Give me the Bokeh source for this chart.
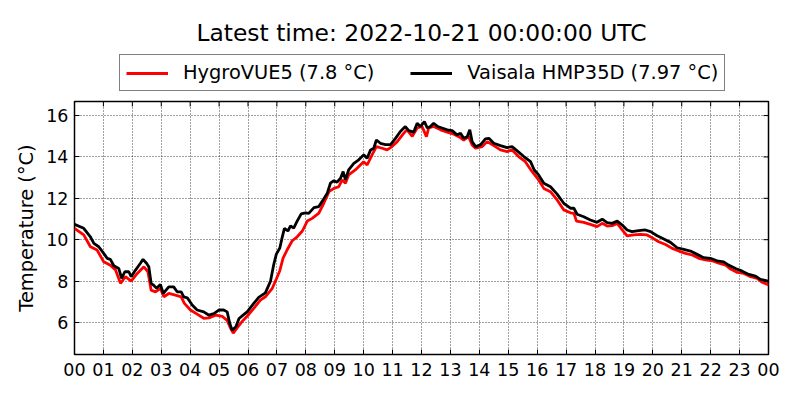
import math
from bokeh.plotting import figure
from bokeh.layouts import column
from bokeh.models import Legend, LegendItem, FixedTicker, Range1d
from bokeh.core.properties import value
from bokeh.embed import file_html
from bokeh.resources import INLINE

# ---------------- data ----------------
title_text = "Latest time: 2022-10-21 00:00:00 UTC"
y_label = "Temperature (°C)"
red_name = "HygroVUE5"
black_name = "Vaisala HMP35D"

hour_ticks = list(range(25))
hour_labels = ["%02d" % (h % 24) for h in hour_ticks]
temp_ticks = [6, 8, 10, 12, 14, 16]
x_lo, x_hi = 0, 24
y_lo, y_hi = 4.45, 16.68

red_hours = [0.00, 0.32, 0.55, 0.78, 1.01, 1.24, 1.42, 1.59, 1.76, 1.96, 2.17, 2.40, 2.54, 2.65,
             2.80, 2.97, 3.09, 3.26, 3.49, 3.69, 3.80, 4.01, 4.24, 4.47, 4.65, 4.88, 5.11, 5.28,
             5.40, 5.49, 5.63, 5.80, 5.97, 6.20, 6.43, 6.60, 6.84, 6.98, 7.10, 7.21, 7.35, 7.53,
             7.70, 7.88, 8.05, 8.22, 8.45, 8.62, 8.80, 8.97, 9.14, 9.26, 9.37, 9.48, 9.71, 10.00,
             10.12, 10.29, 10.44, 10.64, 10.81, 10.98, 11.16, 11.39, 11.50, 11.68, 11.85, 12.02,
             12.17, 12.25, 12.42, 12.66, 12.89, 13.12, 13.29, 13.46, 13.63, 13.75, 13.87, 14.10,
             14.27, 14.50, 14.73, 14.96, 15.13, 15.36, 15.59, 15.82, 16.05, 16.23, 16.46, 16.69,
             16.92, 17.15, 17.27, 17.36, 17.61, 17.84, 18.07, 18.25, 18.42, 18.59, 18.77, 18.94,
             19.11, 19.34, 19.57, 19.80, 19.97, 20.20, 20.44, 20.67, 20.90, 21.13, 21.36, 21.59,
             21.82, 22.05, 22.28, 22.52, 22.69, 22.92, 23.15, 23.38, 23.61, 23.78, 23.95, 24.00]
red_temps = [10.55, 10.23, 9.66, 9.50, 8.93, 8.77, 8.53, 7.89, 8.21, 8.00, 8.37, 8.69, 8.45, 7.56,
             7.48, 7.64, 7.24, 7.40, 7.32, 7.24, 6.92, 6.60, 6.40, 6.20, 6.22, 6.35, 6.29, 6.10,
             5.71, 5.48, 5.75, 6.05, 6.30, 6.68, 7.08, 7.24, 7.65, 8.10, 8.50, 9.10, 9.50, 9.95,
             10.14, 10.42, 10.90, 11.03, 11.28, 11.76, 12.32, 12.48, 12.56, 12.89, 12.73, 13.13, 13.37, 13.77,
             13.61, 14.10, 14.50, 14.42, 14.34, 14.50, 14.74, 15.15, 15.31, 15.00, 15.40, 15.47,
             14.98, 15.40, 15.47, 15.31, 15.20, 15.10, 14.98, 14.82, 14.98, 14.58, 14.42, 14.50,
             14.74, 14.55, 14.34, 14.26, 14.34, 14.02, 13.77, 13.30, 12.89, 12.48, 12.32, 11.92,
             11.44, 11.30, 11.27, 10.90, 10.84, 10.74, 10.63, 10.79, 10.66, 10.68, 10.79, 10.47,
             10.18, 10.23, 10.26, 10.23, 10.10, 9.90, 9.77, 9.58, 9.45, 9.34, 9.26, 9.10,
             9.02, 8.98, 8.86, 8.77, 8.58, 8.42, 8.37, 8.21, 8.13, 7.94, 7.85, 7.80]

black_hours = [0.00, 0.32, 0.55, 0.67, 0.84, 1.01, 1.13, 1.24, 1.36, 1.53, 1.63, 1.74, 1.88, 1.96,
               2.11, 2.28, 2.37, 2.49, 2.57, 2.65, 2.72, 2.84, 2.97, 3.07, 3.26, 3.43, 3.55, 3.69,
               3.78, 3.90, 4.07, 4.24, 4.47, 4.65, 4.82, 4.99, 5.16, 5.28, 5.37, 5.45, 5.58, 5.69,
               5.83, 5.97, 6.20, 6.37, 6.60, 6.78, 6.89, 6.98, 7.10, 7.18, 7.26, 7.38, 7.47, 7.58,
               7.70, 7.84, 7.99, 8.10, 8.28, 8.45, 8.56, 8.74, 8.85, 8.97, 9.08, 9.20, 9.29, 9.37,
               9.48, 9.66, 9.83, 10.00, 10.12, 10.24, 10.35, 10.44, 10.58, 10.75, 10.93, 11.10,
               11.27, 11.44, 11.56, 11.73, 11.85, 11.96, 12.10, 12.20, 12.31, 12.42, 12.56, 12.71,
               12.89, 13.06, 13.23, 13.35, 13.46, 13.58, 13.67, 13.75, 13.87, 14.04, 14.21, 14.33,
               14.50, 14.73, 14.96, 15.13, 15.31, 15.54, 15.77, 15.90, 16.05, 16.23, 16.46, 16.69,
               16.92, 17.15, 17.27, 17.38, 17.61, 17.84, 18.07, 18.25, 18.42, 18.59, 18.77, 18.94,
               19.11, 19.28, 19.51, 19.74, 19.92, 20.15, 20.38, 20.61, 20.84, 21.07, 21.30, 21.53,
               21.76, 21.99, 22.22, 22.45, 22.62, 22.86, 23.09, 23.32, 23.55, 23.72, 23.95, 24.00]
black_temps = [10.74, 10.55, 10.14, 9.82, 9.66, 9.34, 9.10, 9.05, 8.74, 8.61, 8.13, 8.45, 8.45, 8.21,
               8.53, 8.86, 9.05, 8.86, 8.69, 7.89, 7.82, 7.65, 7.84, 7.40, 7.72, 7.72, 7.48, 7.48,
               7.24, 7.19, 6.84, 6.60, 6.51, 6.35, 6.43, 6.60, 6.60, 6.51, 5.95, 5.63, 5.79, 6.19,
               6.35, 6.51, 6.92, 7.21, 7.43, 8.00, 8.80, 9.30, 9.60, 10.10, 10.55, 10.42, 10.67, 10.56,
               10.90, 11.25, 11.30, 11.27, 11.55, 11.60, 11.84, 12.24, 12.73, 12.85, 12.78, 12.97, 13.29, 12.89,
               13.37, 13.69, 13.86, 14.10, 13.94, 14.34, 14.42, 14.82, 14.66, 14.60, 14.60, 14.90,
               15.23, 15.47, 15.27, 15.20, 15.63, 15.47, 15.71, 15.40, 15.47, 15.63, 15.47, 15.40,
               15.31, 15.27, 15.07, 15.15, 14.90, 14.98, 15.31, 14.74, 14.50, 14.58, 14.87, 14.90,
               14.66, 14.55, 14.45, 14.50, 14.29, 14.02, 13.77, 13.37, 13.13, 12.73, 12.56, 12.20,
               11.76, 11.52, 11.52, 11.23, 11.11, 10.95, 10.84, 10.99, 10.82, 10.79, 10.90, 10.71,
               10.47, 10.39, 10.44, 10.47, 10.39, 10.19, 10.03, 9.87, 9.61, 9.53, 9.45, 9.29,
               9.13, 9.10, 8.98, 8.93, 8.77, 8.61, 8.48, 8.32, 8.24, 8.08, 8.01, 7.97]

FONT = "DejaVu Sans"
RED = "#ff0000"
BLACK = "#000000"
W = 784
HEAD_H = 95
MAIN_H = 289
LEFT, RIGHT = 74, 16
NAN = float("nan")

# ---------------- header (title + legend) ----------------
head = figure(width=W, height=HEAD_H, output_backend="svg", toolbar_location=None, title=None,
              x_range=Range1d(LEFT, W - RIGHT), y_range=Range1d(HEAD_H, 0),
              min_border_left=LEFT, min_border_right=RIGHT, min_border_top=0, min_border_bottom=0)
head.axis.visible = False
head.grid.visible = False
head.outline_line_color = None
head.background_fill_color = "white"
head.border_fill_color = "white"
head.text(x=[421], y=[32.5], text=[title_text], text_align="center", text_baseline="alphabetic",
          text_font=value(FONT), text_font_size="23.4px", text_color="black")
k_red = head.line([NAN], [NAN], line_color=RED, line_width=2.8)
k_black = head.line([NAN], [NAN], line_color=BLACK, line_width=2.8)
legend = Legend(
    items=[LegendItem(label="%s (%s °C)" % (red_name, red_temps[-1]), renderers=[k_red]),
           LegendItem(label="%s (%s °C)" % (black_name, black_temps[-1]), renderers=[k_black])],
    orientation="horizontal", location=(119 - LEFT, 4),
    label_text_font=FONT, label_text_font_size="19.4px", label_text_color="black",
    glyph_width=42, glyph_height=22, label_height=22, label_standoff=15, spacing=36,
    padding=6, margin=0, border_line_color="black", border_line_width=1.3,
    background_fill_color="white", background_fill_alpha=1.0)
head.add_layout(legend)

# ---------------- main plot ----------------
p = figure(width=W, height=MAIN_H, output_backend="svg", toolbar_location=None, title=None,
           x_range=Range1d(x_lo, x_hi), y_range=Range1d(y_lo, y_hi),
           min_border_left=LEFT, min_border_right=RIGHT, min_border_top=6, min_border_bottom=30)
p.background_fill_color = "white"
p.border_fill_color = "white"
p.outline_line_color = "black"
p.outline_line_width = 1.5

xt = FixedTicker(ticks=hour_ticks)
yt = FixedTicker(ticks=temp_ticks)

p.xaxis.ticker = xt
p.xaxis.major_label_overrides = {h: lab for h, lab in zip(hour_ticks, hour_labels)}
p.yaxis.ticker = yt
p.xgrid.ticker = xt
p.ygrid.ticker = yt

for ax in (p.xaxis[0], p.yaxis[0]):
    ax.axis_line_color = None
    ax.major_tick_in = 5
    ax.major_tick_out = 0
    ax.major_tick_line_color = "black"
    ax.minor_tick_in = 0
    ax.minor_tick_out = 0
    ax.major_label_text_font = FONT
    ax.major_label_text_font_size = "17.5px"
    ax.major_label_text_color = "black"

p.xaxis.major_label_standoff = 8
p.yaxis.major_label_standoff = 6
p.yaxis.axis_label = y_label
p.yaxis.axis_label_text_font = FONT
p.yaxis.axis_label_text_font_size = "19.4px"
p.yaxis.axis_label_text_font_style = "normal"
p.yaxis.axis_label_text_color = "black"
p.yaxis.axis_label_standoff = 5

for g in (p.xgrid[0], p.ygrid[0]):
    g.grid_line_color = "black"
    g.grid_line_alpha = 0.75
    g.grid_line_width = 1
    g.grid_line_dash = "1 2"

# mirrored inward ticks on the top and right edges (half of each dash is clipped by the frame)
p.scatter(hour_ticks, [y_hi] * len(hour_ticks), marker="dash", size=10, angle=math.pi / 2,
          line_color="black", line_width=1)
p.scatter([x_hi] * len(temp_ticks), temp_ticks, marker="dash", size=10, angle=0,
          line_color="black", line_width=1)

p.line(red_hours, red_temps, line_color=RED, line_width=2.8)
p.line(black_hours, black_temps, line_color=BLACK, line_width=2.8)

open("out.html", "w").write(file_html(column(head, p, spacing=0), INLINE))
